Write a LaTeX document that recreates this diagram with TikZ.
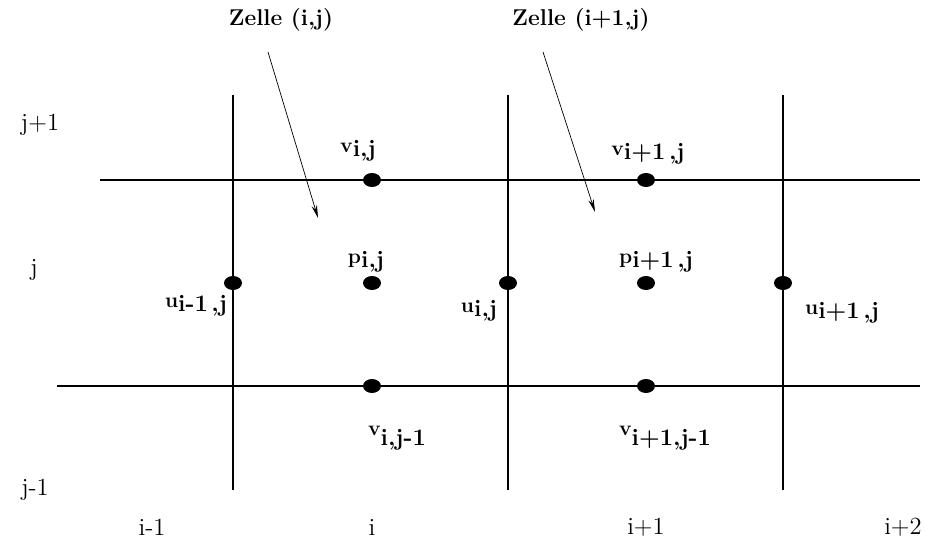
\documentclass[tikz,border=0pt]{standalone}
\usepackage{tikz}
\usetikzlibrary{arrows.meta,shapes.geometric}

% letter with a lowered index
\newcommand{\idx}[3][.55ex]{{\fontsize{12}{14}\selectfont #2}\raisebox{-#1}{\fontsize{13.5}{16}\selectfont #3}}
\newcommand{\gap}{\kern.15em}

\begin{document}
\begin{tikzpicture}[x=0.02cm, y=-0.02cm, >={Stealth[length=2.6mm,width=1.1mm]},
  gridline/.style={line width=1pt},
  dot/.style={ellipse, fill=black, inner sep=0pt, minimum width=3.6mm, minimum height=2.8mm},
  lbl/.style={font=\bfseries, inner sep=1pt},
  idxlbl/.style={font=\fontsize{14}{16}\selectfont, inner sep=1pt},
  cellnote/.style={font=\fontsize{13}{16}\selectfont\bfseries, inner sep=1pt}]
  \useasboundingbox (0,0) rectangle (926,547);
  % grid
  \foreach \x in {233,508,783}{\draw[gridline] (\x,95) -- (\x,490);}
  \draw[gridline] (100,180) -- (920,180);
  \draw[gridline] (57,386) -- (920,386);
  % unknowns
  \node[dot] (vij) at (372,180) {};
  \node[dot] (vipj) at (646,180) {};
  \node[dot] (pij) at (372,283) {};
  \node[dot] (pipj) at (646,283) {};
  \node[dot] (uimj) at (233,283) {};
  \node[dot] (uij) at (508,283) {};
  \node[dot] (uipj) at (783,283) {};
  \node[dot] (vijm) at (372,386) {};
  \node[dot] (vipjm) at (646,386) {};
  % labels of the unknowns
  \node[lbl] (lvij) at (358,151) {\idx{v}{i,j}};
  \node[lbl] (lvipj) at (648,154) {\idx{v}{i+1\gap,j}};
  \node[lbl] (lpij) at (366,262) {\idx{p}{i,j}};
  \node[lbl] (lpipj) at (656,262) {\idx{p}{i+1\gap,j}};
  \node[lbl] (luimj) at (196,306) {\idx{u}{i-1\gap,j}};
  \node[lbl] (luij) at (479,311) {\idx{u}{i,j}};
  \node[lbl] (luipj) at (842,313) {\idx{u}{i+1\gap,j}};
  \node[lbl] (lvijm) at (397,438) {\idx[1.3ex]{v}{i,j-1}};
  \node[lbl] (lvipjm) at (665,438) {\idx[1.3ex]{v}{i+1,j-1}};
  % cell notes
  \node[cellnote] (zij) at (281,20) {Zelle (i,j)};
  \node[cellnote] (zipj) at (581,20) {Zelle (i+1,j)};
  \coordinate (tij) at (318,218);
  \coordinate (tipj) at (595,212);
  \draw[->, thin] (268,52) -- (tij);
  \draw[->, thin] (543,52) -- (tipj);
  % indices
  \node[idxlbl] (jp) at (40,125) {j+1};
  \node[idxlbl] (j0) at (34,270) {j};
  \node[idxlbl] (jm) at (35,490) {j-1};
  \node[idxlbl] (im) at (152,527) {i-1};
  \node[idxlbl] (i0) at (372,527) {i};
  \node[idxlbl] (ip) at (646,527) {i+1};
  \node[idxlbl] (ipp) at (903,527) {i+2};
\end{tikzpicture}
\end{document}
